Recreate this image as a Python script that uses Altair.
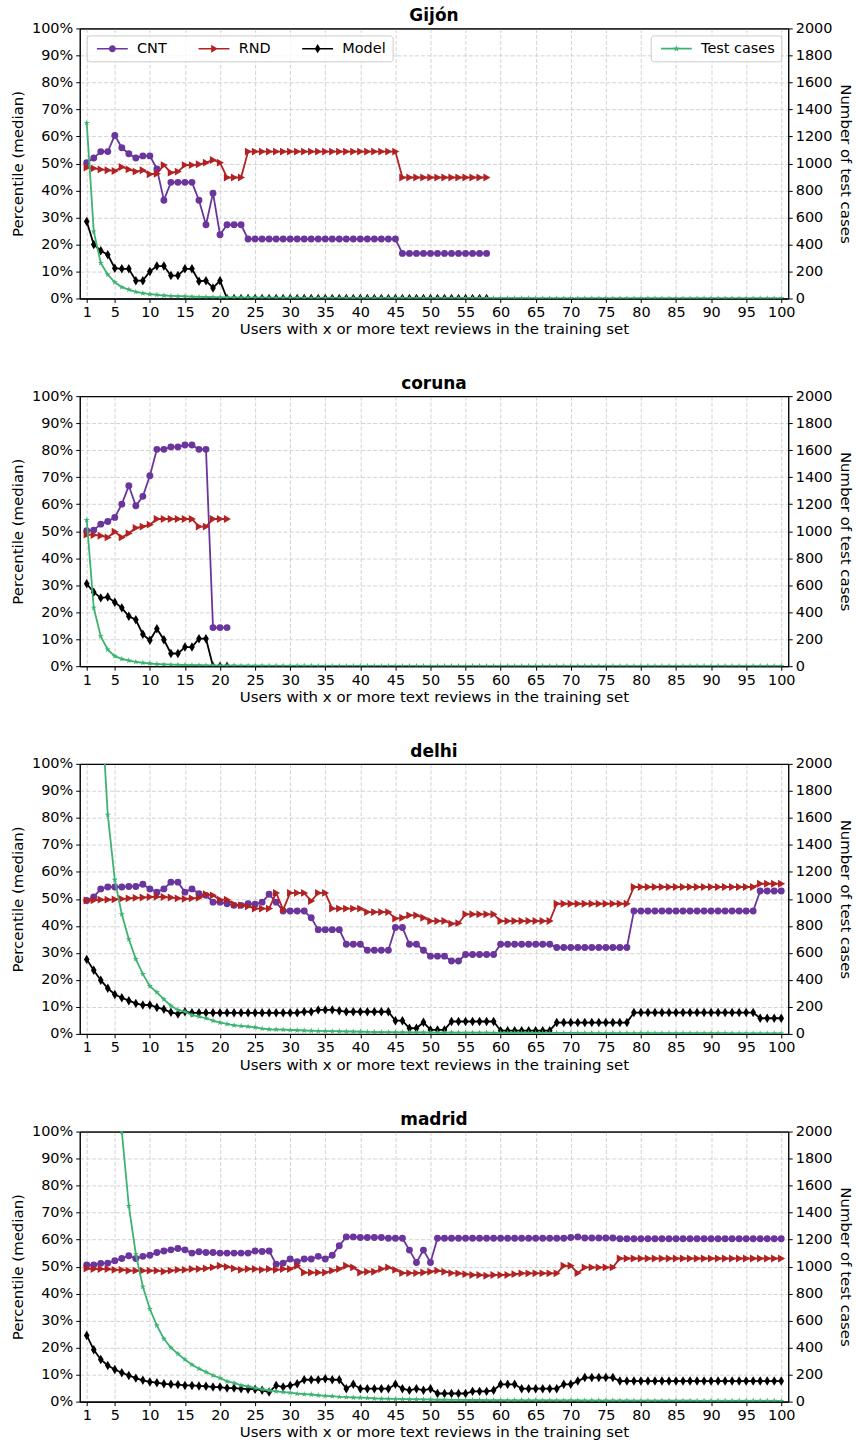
import altair as alt
import pandas as pd

# ---------------- data ----------------
X_TICKS = [1, 5, 10, 15, 20, 25, 30, 35, 40, 45, 50, 55, 60, 65, 70, 75, 80, 85, 90, 95, 100]
Y_TICKS_LEFT = [0, 10, 20, 30, 40, 50, 60, 70, 80, 90, 100]
Y_TICKS_RIGHT = [0, 200, 400, 600, 800, 1000, 1200, 1400, 1600, 1800, 2000]
SERIES = ["CNT", "RND", "Model"]
TEST_LABEL = "Test cases"

gijon_cnt = [50.3, 52.0, 54.4, 54.4, 60.4, 55.8, 53.6, 52.0, 52.8, 52.8,
             48.0, 36.4, 43.0, 43.0, 43.0, 43.0, 36.4, 27.3, 39.0, 23.6,
             27.3, 27.3, 27.3, 22.0, 22.0, 22.0, 22.0, 22.0, 22.0, 22.0,
             22.0, 22.0, 22.0, 22.0, 22.0, 22.0, 22.0, 22.0, 22.0, 22.0,
             22.0, 22.0, 22.0, 22.0, 22.0, 16.7, 16.7, 16.7, 16.7, 16.7,
             16.7, 16.7, 16.7, 16.7, 16.7, 16.7, 16.7, 16.7]
gijon_rnd = [48.5, 48.2, 47.8, 47.5, 47.2, 48.7, 47.8, 47.0, 47.5, 46.0,
             46.2, 49.4, 46.6, 47.0, 49.4, 49.4, 49.7, 50.3, 51.3, 50.3,
             44.8, 44.8, 44.8, 54.4, 54.4, 54.4, 54.4, 54.4, 54.4, 54.4,
             54.4, 54.4, 54.4, 54.4, 54.4, 54.4, 54.4, 54.4, 54.4, 54.4,
             54.4, 54.4, 54.4, 54.4, 54.4, 44.8, 44.8, 44.8, 44.8, 44.8,
             44.8, 44.8, 44.8, 44.8, 44.8, 44.8, 44.8, 44.8]
gijon_model = [28.5, 20.0, 17.7, 16.2, 11.2, 11.0, 11.0, 6.6, 6.6, 10.0,
               12.0, 12.0, 8.5, 8.5, 11.0, 11.0, 6.4, 6.6, 3.9, 6.6,
               0, 0, 0, 0, 0, 0, 0, 0, 0, 0,
               0, 0, 0, 0, 0, 0, 0, 0, 0, 0,
               0, 0, 0, 0, 0, 0, 0, 0, 0, 0,
               0, 0, 0, 0, 0, 0, 0, 0]
gijon_tests = [1300, 497, 263, 177, 120, 84, 66, 49, 39, 32,
               27, 22, 19, 17, 15, 13, 12, 11, 10, 9,
               8, 8, 7, 7, 6, 6, 6, 5, 5, 5,
               5, 4, 4, 4, 4, 4, 4, 3, 3, 3,
               3, 3, 3, 3, 3, 3, 2, 2, 2, 2,
               2, 2, 2, 2, 2, 2, 2, 2, 2, 2,
               2, 2, 2, 2, 1, 1, 1, 1, 1, 1,
               1, 1, 1, 1, 1, 1, 1, 1, 1, 1,
               1, 1, 1, 1, 1, 1, 1, 1, 1, 1,
               1, 1, 1, 1, 1, 1, 1, 1, 1, 1]

coruna_cnt = [50.2, 50.4, 52.6, 53.6, 55.1, 60.0, 66.8, 59.4, 62.9, 70.5,
              80.3, 80.3, 81.2, 81.2, 81.9, 81.9, 80.3, 80.3, 14.3, 14.3, 14.3]
coruna_rnd = [48.7, 48.6, 48.3, 47.7, 49.8, 47.7, 49.2, 51.2, 51.7, 52.4,
              54.5, 54.5, 54.5, 54.5, 54.5, 54.5, 51.7, 51.7, 54.5, 54.5, 54.5]
coruna_model = [30.5, 27.4, 25.3, 25.6, 23.7, 21.6, 18.5, 17.2, 11.8, 9.6,
                13.9, 9.8, 4.7, 4.7, 7.1, 7.1, 10.2, 10.2, 0, 0, 0]
coruna_tests = [1082, 433, 221, 123, 74, 54, 42, 32, 25, 20,
                16, 13, 11, 10, 9, 8, 7, 6, 6, 5,
                5, 5, 4, 4, 4, 4, 3, 3, 3, 3,
                3, 3, 3, 2, 2, 2, 2, 2, 2, 2,
                2, 2, 2, 2, 2, 2, 2, 1, 1, 1,
                1, 1, 1, 1, 1, 1, 1, 1, 1, 1,
                1, 1, 1, 1, 1, 1, 1, 1, 1, 1,
                1, 1, 1, 1, 1, 1, 1, 1, 1, 1,
                1, 1, 1, 1, 1, 1, 1, 1, 1, 1,
                1, 1, 1, 1, 1, 1, 1, 1, 1, 1]

delhi_cnt = [49.4, 50.7, 53.7, 54.4, 54.4, 54.4, 54.6, 54.6, 55.4, 53.7,
             52.5, 53.7, 56.2, 56.2, 52.5, 53.7, 51.9, 51.3, 48.8, 48.8,
             48.2, 47.6, 47.6, 48.2, 48.0, 48.8, 51.7, 48.8, 45.5, 45.5,
             45.5, 45.5, 43.0, 38.6, 38.6, 38.6, 38.6, 33.2, 33.2, 33.2,
             31.0, 31.0, 31.0, 31.0, 39.4, 39.4, 33.2, 33.2, 31.0, 28.8,
             28.8, 28.8, 27.0, 27.0, 29.4, 29.4, 29.4, 29.4, 29.4, 33.2,
             33.2, 33.2, 33.2, 33.2, 33.2, 33.2, 33.2, 32.0, 32.0, 32.0,
             32.0, 32.0, 32.0, 32.0, 32.0, 32.0, 32.0, 32.0, 45.5, 45.5,
             45.5, 45.5, 45.5, 45.5, 45.5, 45.5, 45.5, 45.5, 45.5, 45.5,
             45.5, 45.5, 45.5, 45.5, 45.5, 45.5, 52.9, 52.9, 52.9, 52.9]
delhi_rnd = [49.4, 49.5, 49.7, 49.7, 49.8, 50.0, 50.2, 50.4, 50.5, 50.7,
             50.8, 50.7, 50.5, 50.2, 50.0, 50.2, 50.4, 51.7, 51.3, 49.7,
             49.7, 48.0, 47.6, 47.2, 46.4, 46.4, 46.4, 52.2, 46.0, 52.2,
             52.2, 52.2, 49.2, 52.2, 52.2, 46.4, 46.4, 46.4, 46.4, 46.4,
             45.1, 45.1, 45.1, 45.1, 42.7, 43.0, 43.9, 43.9, 43.0, 41.8,
             41.8, 41.8, 40.8, 41.0, 44.3, 44.3, 44.3, 44.3, 44.3, 41.8,
             41.8, 41.8, 41.8, 41.8, 41.8, 41.8, 41.8, 48.2, 48.2, 48.2,
             48.2, 48.2, 48.2, 48.2, 48.2, 48.2, 48.2, 48.2, 54.4, 54.4,
             54.4, 54.4, 54.4, 54.4, 54.4, 54.4, 54.4, 54.4, 54.4, 54.4,
             54.4, 54.4, 54.4, 54.4, 54.4, 54.4, 55.6, 55.6, 55.6, 55.6]
delhi_model = [27.6, 23.6, 19.9, 16.9, 14.6, 13.4, 12.3, 11.3, 10.7, 10.7,
               9.8, 9.1, 8.0, 7.4, 8.2, 7.8, 7.8, 7.8, 7.8, 7.8,
               7.8, 7.8, 7.8, 7.8, 7.8, 7.8, 7.8, 7.8, 7.8, 7.8,
               7.8, 8.2, 8.2, 8.9, 8.9, 8.9, 8.6, 8.2, 8.2, 8.2,
               8.2, 8.2, 8.2, 8.2, 4.9, 4.9, 2.1, 2.1, 4.3, 1.5,
               1.5, 1.5, 4.6, 4.6, 4.6, 4.6, 4.6, 4.6, 4.6, 1.2,
               1.2, 1.2, 1.2, 1.2, 1.2, 1.2, 1.2, 4.2, 4.2, 4.2,
               4.2, 4.2, 4.2, 4.2, 4.2, 4.2, 4.2, 4.2, 7.9, 7.9,
               7.9, 7.9, 7.9, 7.9, 7.9, 7.9, 7.9, 7.9, 7.9, 7.9,
               7.9, 7.9, 7.9, 7.9, 7.9, 7.9, 5.8, 5.8, 5.8, 5.8]
delhi_tests = [7000, 4200, 2500, 1624, 1141, 886, 701, 554, 443, 354,
               308, 256, 209, 177, 165, 140, 128, 116, 98, 84,
               74, 64, 59, 54, 49, 39, 34, 32, 31, 29,
               27, 25, 23, 22, 21, 20, 19, 18, 17, 16,
               15, 14, 13, 13, 12, 12, 11, 11, 11, 10,
               10, 10, 10, 9, 9, 9, 9, 9, 8, 8,
               8, 8, 8, 8, 7, 7, 7, 7, 7, 7,
               7, 6, 6, 6, 6, 6, 6, 6, 6, 6,
               6, 5, 5, 5, 5, 5, 5, 5, 5, 5,
               5, 5, 4, 4, 4, 4, 4, 4, 4, 4]

madrid_cnt = [50.6, 50.6, 51.2, 51.3, 52.2, 53.0, 54.0, 53.0, 53.8, 54.2,
              55.2, 55.8, 56.2, 56.7, 56.2, 55.0, 55.5, 55.2, 55.2, 55.0,
              55.0, 55.0, 55.0, 55.0, 55.8, 55.6, 55.8, 50.9, 51.3, 52.8,
              51.8, 52.8, 52.8, 53.8, 52.8, 54.2, 57.7, 61.0, 61.0, 60.8,
              60.8, 60.8, 60.8, 60.5, 60.5, 60.5, 56.1, 51.5, 56.1, 51.5,
              60.5, 60.5, 60.5, 60.5, 60.5, 60.5, 60.5, 60.5, 60.5, 60.5,
              60.5, 60.5, 60.5, 60.5, 60.5, 60.5, 60.5, 60.5, 60.5, 60.8,
              61.0, 60.6, 60.6, 60.6, 60.6, 60.6, 60.3, 60.3, 60.3, 60.3,
              60.3, 60.3, 60.3, 60.3, 60.3, 60.3, 60.3, 60.3, 60.3, 60.3,
              60.3, 60.3, 60.3, 60.3, 60.3, 60.3, 60.3, 60.3, 60.3, 60.3]
madrid_rnd = [49.3, 49.1, 49.1, 49.1, 48.8, 48.8, 48.5, 48.5, 48.5, 48.5,
              48.5, 48.2, 48.5, 48.8, 48.8, 49.1, 49.1, 49.3, 49.7, 50.3,
              49.9, 49.3, 48.8, 49.1, 49.1, 48.8, 49.1, 48.8, 49.1, 49.1,
              50.3, 47.8, 47.8, 47.8, 47.8, 48.5, 49.1, 50.3, 49.7, 47.8,
              48.1, 48.1, 49.1, 49.7, 48.8, 47.6, 47.6, 47.6, 47.8, 48.1,
              48.5, 48.1, 47.6, 47.5, 47.2, 46.9, 46.9, 46.6, 46.9, 46.9,
              46.9, 47.2, 47.5, 47.5, 47.5, 47.5, 47.5, 47.5, 50.3, 50.3,
              47.6, 49.7, 49.7, 49.7, 49.7, 49.7, 53.0, 53.0, 53.0, 53.0,
              53.0, 53.0, 53.0, 53.0, 53.0, 53.0, 53.0, 53.0, 53.0, 53.0,
              53.0, 53.0, 53.0, 53.0, 53.0, 53.0, 53.0, 53.0, 53.0, 53.0]
madrid_model = [24.5, 19.2, 15.6, 13.4, 11.9, 10.7, 9.7, 8.7, 7.9, 7.3,
                7.0, 6.6, 6.4, 6.3, 6.0, 6.0, 5.8, 5.7, 5.4, 5.4,
                5.0, 5.0, 4.8, 4.6, 4.6, 4.2, 3.6, 6.0, 5.4, 6.0,
                6.6, 8.1, 8.1, 8.1, 8.5, 8.1, 8.1, 4.8, 6.4, 4.8,
                4.8, 4.8, 4.8, 4.8, 6.4, 4.8, 4.2, 4.8, 4.2, 4.8,
                3.0, 3.0, 3.0, 3.0, 3.0, 3.8, 3.8, 3.8, 4.2, 6.4,
                6.4, 6.4, 4.8, 4.8, 4.8, 4.8, 4.8, 4.8, 6.4, 6.4,
                7.6, 8.9, 8.9, 8.9, 8.9, 8.9, 7.6, 7.6, 7.6, 7.6,
                7.6, 7.6, 7.6, 7.6, 7.6, 7.6, 7.6, 7.6, 7.6, 7.6,
                7.6, 7.6, 7.6, 7.6, 7.6, 7.6, 7.6, 7.6, 7.6, 7.6]
madrid_tests = [9500, 6000, 4200, 3100, 2450, 2000, 1449, 1092, 851, 686,
                563, 465, 399, 354, 312, 273, 244, 219, 194, 175,
                150, 138, 121, 113, 101, 91, 84, 76, 71, 66,
                59, 55, 52, 47, 43, 40, 35, 33, 30, 29,
                27, 23, 22, 21, 20, 19, 18, 17, 16, 15,
                14, 14, 13, 13, 12, 12, 12, 11, 11, 11,
                10, 10, 10, 10, 10, 9, 9, 9, 9, 9,
                9, 8, 8, 8, 8, 8, 8, 8, 7, 7,
                7, 7, 7, 7, 7, 7, 7, 6, 6, 6,
                6, 6, 6, 6, 6, 6, 6, 6, 6, 5]

PANELS = [
    ("Gijón", gijon_cnt, gijon_rnd, gijon_model, gijon_tests, True),
    ("coruna", coruna_cnt, coruna_rnd, coruna_model, coruna_tests, False),
    ("delhi", delhi_cnt, delhi_rnd, delhi_model, delhi_tests, False),
    ("madrid", madrid_cnt, madrid_rnd, madrid_model, madrid_tests, False),
]

# ---------------- styles ----------------
FONT = "DejaVu Sans"
COLORS = {"CNT": "#6a359c", "RND": "#b22222", "Model": "#000000"}
TEST_COLOR = "#3cb371"
GRID_COLOR = "#c8c8c8"

STAR = ("M0,-1L0.2234,-0.3074L0.9511,-0.309L0.3614,0.1174L0.5878,0.809L0,0.38"
        "L-0.5878,0.809L-0.3614,0.1174L-0.9511,-0.309L-0.2234,-0.3074Z")
SHAPES = {"CNT": "circle", "RND": "M-0.8,-1L1,0L-0.8,1Z", "Model": "M0,-1L0.6,0L0,1L-0.6,0Z"}
SIZES = {"CNT": 48, "RND": 62, "Model": 90}


def legend_path(kind):
    c, h, x0, x1 = 4.17, 0.27, -1.0, 9.33
    line = (f"M{x0},{-h}L{c},{-h}L{c},{h}L{x0},{h}Z"
            f"M{c},{-h}L{x1},{-h}L{x1},{h}L{c},{h}Z")
    if kind == "circle":
        r = 1.15
        m = f"M{c + r:.3f},0A{r},{r} 0 1,1 {c - r:.3f},0A{r},{r} 0 1,1 {c + r:.3f},0Z"
    elif kind == "tri":
        m = f"M{c - 0.95:.3f},-1.3L{c + 1.25:.3f},0L{c - 0.95:.3f},1.3Z"
    elif kind == "diam":
        m = f"M{c:.3f},-1.55L{c + 0.95:.3f},0L{c:.3f},1.55L{c - 0.95:.3f},0Z"
    else:
        pts = [(0, -1), (0.2234, -0.3074), (0.9511, -0.309), (0.3614, 0.1174), (0.5878, 0.809),
               (0, 0.38), (-0.5878, 0.809), (-0.3614, 0.1174), (-0.9511, -0.309), (-0.2234, -0.3074)]
        s = 1.2
        m = "M" + "L".join(f"{c + s * px:.3f},{s * py:.3f}" for px, py in pts) + "Z"
    return line + m


def legend_style(orient, columns):
    return alt.Legend(
        title=None, orient=orient, columns=columns, direction="horizontal",
        offset=7, padding=6, fillColor="rgba(255,255,255,0.8)", strokeColor="#cccccc",
        cornerRadius=3, labelFont=FONT, labelFontSize=14.5, labelColor="black",
        symbolSize=36, symbolStrokeWidth=0, symbolOpacity=1, labelOffset=30,
        columnPadding=27, symbolLimit=0,
    )


EDGE = "datum.value === 0 || datum.value === 100"
x_scale = alt.Scale(domain=[0, 101], nice=False, zero=False)
x_axis = alt.Axis(values=X_TICKS, title="Users with x or more text reviews in the training set",
                  grid=True, gridDash=[4, 2], gridColor=GRID_COLOR, gridWidth=0.8,
                  labelFlush=False, titlePadding=3)
yl_axis = alt.Axis(values=Y_TICKS_LEFT, labelExpr="datum.value + '%'", title="Percentile (median)",
                   grid=True,
                   gridDash={"condition": {"test": EDGE, "value": []}, "value": [4, 2]},
                   gridColor={"condition": {"test": EDGE, "value": "black"}, "value": GRID_COLOR},
                   gridWidth={"condition": {"test": EDGE, "value": 1}, "value": 0.8},
                   titlePadding=6)
yr_axis = alt.Axis(values=Y_TICKS_RIGHT, orient="right", format="d", title="Number of test cases",
                   grid=False, titlePadding=6)


def make_panel(name, cnt, rnd, model, tests, show_legend):
    n = len(cnt)
    xs = list(range(1, n + 1))
    df = pd.DataFrame({"x": xs * 3, "series": ["CNT"] * n + ["RND"] * n + ["Model"] * n,
                       "value": cnt + rnd + model})
    dft = pd.DataFrame({"x": list(range(1, len(tests) + 1)), "tests": tests,
                        "series": [TEST_LABEL] * len(tests)})
    X = alt.X("x:Q", scale=x_scale, axis=x_axis)
    YL = alt.Y("value:Q", scale=alt.Scale(domain=[0, 100], nice=False, zero=False), axis=yl_axis)
    YR = alt.Y("tests:Q", scale=alt.Scale(domain=[0, 2000], nice=False, zero=False), axis=yr_axis)

    left_layers = []
    for s in SERIES:
        base = alt.Chart(df).transform_filter(alt.datum.series == s)
        left_layers.append(base.mark_line(color=COLORS[s], strokeWidth=1.8, clip=True).encode(x=X, y=YL))
        left_layers.append(base.mark_point(shape=SHAPES[s], size=SIZES[s], filled=True, opacity=1,
                                           color=COLORS[s], strokeWidth=0, clip=True).encode(x=X, y=YL))
    right_layers = [
        alt.Chart(dft).mark_line(color=TEST_COLOR, strokeWidth=1.8, clip=True).encode(x=X, y=YR),
        alt.Chart(dft).mark_point(shape=STAR, size=42, filled=True, opacity=1, color=TEST_COLOR,
                                  strokeWidth=0, clip=True).encode(x=X, y=YR),
    ]
    if show_legend:
        leg1 = legend_style("top-left", 3)
        left_layers.append(
            alt.Chart(df).transform_filter("datum.x < 0").mark_point(filled=True, opacity=1).encode(
                x=X, y=YL,
                color=alt.Color("series:N", scale=alt.Scale(domain=SERIES,
                                range=[COLORS[s] for s in SERIES]), legend=leg1),
                shape=alt.Shape("series:N", scale=alt.Scale(domain=SERIES,
                                range=[legend_path("circle"), legend_path("tri"), legend_path("diam")]),
                                legend=leg1)))
        leg2 = legend_style("top-right", 1)
        right_layers.append(
            alt.Chart(dft).transform_filter("datum.x < 0").mark_point(filled=True, opacity=1).encode(
                x=X, y=YR,
                color=alt.Color("series:N", scale=alt.Scale(domain=[TEST_LABEL], range=[TEST_COLOR]),
                                legend=leg2),
                shape=alt.Shape("series:N", scale=alt.Scale(domain=[TEST_LABEL], range=[legend_path("star")]),
                                legend=leg2)))
    left = alt.layer(*left_layers)
    right = alt.layer(*right_layers)
    return (alt.layer(left, right)
            .resolve_scale(y="independent", color="independent", shape="independent")
            .properties(width=711, height=271, title=alt.Title(name)))


chart = (alt.vconcat(*[make_panel(*p) for p in PANELS], spacing=37)
         .properties(padding={"left": 10, "top": 4, "right": 2, "bottom": 4}, background="white")
         .configure_view(stroke="black", strokeWidth=1)
         .configure_axis(labelFont=FONT, titleFont=FONT, labelFontSize=14.5, titleFontSize=15,
                         titleFontWeight="normal", labelColor="black", titleColor="black",
                         domainColor="black", domainWidth=1, tickColor="black", tickSize=4,
                         tickWidth=1, labelPadding=3)
         .configure_title(font=FONT, fontSize=17, fontWeight="bold", color="black", anchor="middle",
                          offset=-5)
         .configure_legend(labelFont=FONT))

chart.save("out.html", embed_options={"renderer": "svg", "actions": False})
